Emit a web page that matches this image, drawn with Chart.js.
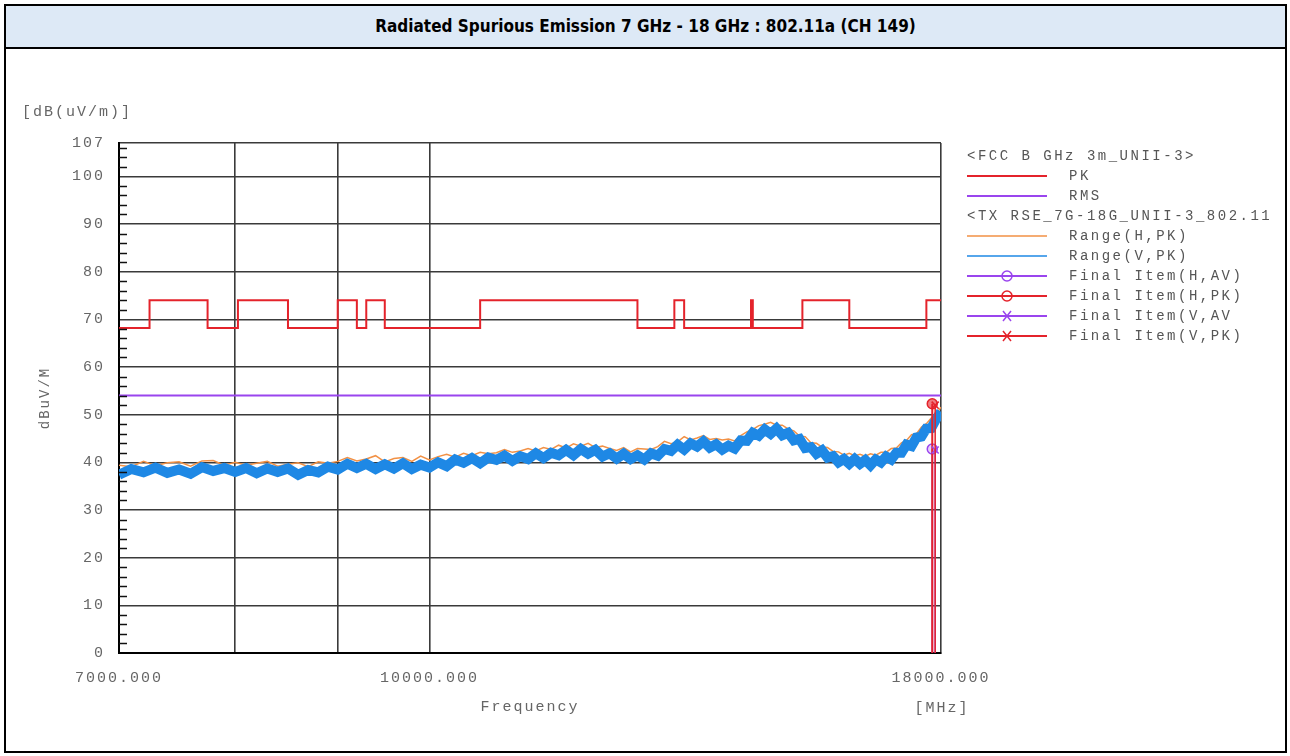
<!DOCTYPE html>
<html>
<head>
<meta charset="utf-8">
<script src="https://cdn.jsdelivr.net/npm/chart.js@4.4.1/dist/chart.umd.min.js"></script>
<style>
  html, body { margin: 0; padding: 0; background: #fff; }
  body { width: 1290px; height: 756px; position: relative; overflow: hidden; }
  #frame { position: absolute; left: 4px; top: 4px; width: 1279px; height: 745px; border: 2px solid #000; }
  #head {
    position: absolute; left: 0; top: 0; right: 0; height: 41px;
    background: #dde9f6; border-bottom: 2px solid #000;
    font: bold 17px "Liberation Sans Narrow", "DejaVu Sans Condensed", sans-serif;
    text-align: center; line-height: 41px; color: #000;
  }
  #chart { position: absolute; left: 0; top: 0; }
</style>
</head>
<body>
<div id="frame"><div id="head">Radiated Spurious Emission 7 GHz - 18 GHz : 802.11a (CH 149)</div></div>
<canvas id="chart" width="1290" height="756"></canvas>
<script>
// axis ticks
const xTicks = [7000, 8000, 9000, 10000, 18000];
const xTickLabels = {7000: '7000.000', 10000: '10000.000', 18000: '18000.000'};
const yTicks = [0, 10, 20, 30, 40, 50, 60, 70, 80, 90, 100, 107];

// limit lines (FCC restricted bands)
const limitFreq = [7000, 7250, 7750, 8025, 8500, 9000, 9200, 9300, 9500, 10600, 12700, 13250, 13400, 14470, 14500, 15350, 16200, 17700, 18000];
const limitPk   = [68.2, 74, 68.2, 74, 68.2, 74, 68.2, 74, 68.2, 74, 68.2, 74, 68.2, 74, 68.2, 74, 68.2, 74, 74];
const rmsFreq = [7000, 18000];
const rmsLimit = [54, 54];

// sweep frequencies (MHz)
const sweepFreq = [
  7000, 7100, 7200, 7300, 7400, 7500, 7600, 7700, 7800, 7900,
  8000, 8100, 8200, 8300, 8400, 8500, 8600, 8700, 8800, 8900,
  9000, 9100, 9200, 9300, 9400, 9500, 9600, 9700, 9800, 9900,
  10000, 10100, 10200, 10300, 10400, 10500, 10600, 10700, 10800, 10900,
  11000, 11100, 11200, 11300, 11400, 11500, 11600, 11700, 11800, 11900,
  12000, 12100, 12200, 12300, 12400, 12500, 12600, 12700, 12800, 12900,
  13000, 13100, 13200, 13300, 13400, 13500, 13600, 13700, 13800, 13900,
  14000, 14100, 14200, 14300, 14400, 14500, 14600, 14700, 14800, 14900,
  15000, 15100, 15200, 15300, 15400, 15500, 15600, 15700, 15800, 15900,
  16000, 16100, 16200, 16300, 16400, 16500, 16600, 16700, 16800, 16900,
  17000, 17100, 17200, 17300, 17400, 17500, 17600, 17700, 17800, 17900,
  18000
];
// Range(V,PK)
const rangeV = [
  37.4, 38.6, 37.9, 38.9, 37.8, 38.5, 37.6, 39.0, 38.2, 38.8,
  38.0, 38.8, 37.7, 38.7, 38.0, 38.7, 37.4, 38.4, 37.9, 39.1,
  38.5, 39.7, 38.8, 39.7, 38.6, 39.6, 38.7, 39.8, 38.6, 39.5,
  38.9, 40.0, 39.2, 40.6, 39.9, 40.9, 39.8, 41.0, 40.5, 41.4,
  40.3, 41.3, 40.7, 41.9, 40.9, 42.0, 41.5, 42.6, 41.5, 42.8,
  41.8, 42.6, 41.2, 41.9, 40.8, 41.8, 40.7, 41.5, 40.6, 41.9,
  41.4, 42.8, 42.4, 43.7, 42.7, 44.0, 43.3, 44.4, 43.1, 43.8,
  42.7, 43.5, 42.9, 44.6, 44.5, 46.2, 45.6, 46.9, 46.0, 47.1,
  45.7, 46.2, 44.6, 44.9, 43.0, 43.2, 41.8, 42.5, 41.0, 41.3,
  40.0, 40.7, 39.7, 40.7, 39.7, 40.5, 39.4, 40.6, 40.0, 41.2,
  40.6, 42.0, 42.0, 43.7, 43.4, 45.2, 45.4, 47.1, 47.2, 49.1,
  50.6
];
// Range(H,PK)
const rangeH = [
  39.4, 39.1, 40.2, 39.3, 39.9, 40.1, 39.2, 40.3, 40.4, 39.4,
  40.0, 39.4, 39.8, 40.2, 39.2, 39.6, 39.9, 39.1, 40.1, 39.8,
  40.2, 41.0, 40.3, 40.7, 41.4, 40.1, 40.8, 41.0, 40.2, 41.3,
  40.5, 41.2, 41.7, 41.1, 41.9, 41.4, 42.1, 41.8, 42.0, 42.7,
  42.1, 42.4, 42.9, 42.4, 43.1, 42.7, 43.6, 43.0, 43.9, 43.4,
  44.0, 43.1, 43.4, 42.9, 42.5, 43.1, 42.2, 42.9, 42.8, 42.7,
  43.3, 44.4, 43.9, 44.3, 45.4, 44.7, 45.1, 45.6, 44.8, 45.0,
  44.7, 44.9, 44.5, 45.6, 46.4, 46.9, 47.7, 48.0, 48.4, 47.8,
  47.8, 47.0, 46.6, 45.5, 45.4, 44.1, 44.0, 43.2, 43.1, 42.3,
  42.2, 41.5, 41.9, 41.4, 41.7, 41.3, 41.8, 41.5, 42.1, 42.1,
  42.9, 43.0, 44.1, 44.6, 45.8, 46.0, 47.4, 48.1, 49.3, 50.1,
  51.6
];

// final measured items
const finalHFreq = 17820, finalVFreq = 17880;
const finalHAv = 42.8, finalHPk = 52.3, finalVAv = 42.6, finalVPk = 52.0;

const legendRows = [
  {header: '<FCC B GHz 3m_UNII-3>'},
  {label: 'PK'},
  {label: 'RMS'},
  {header: '<TX RSE_7G-18G_UNII-3_802.11a_CH149>'},
  {label: 'Range(H,PK)'},
  {label: 'Range(V,PK)'},
  {label: 'Final Item(H,AV)'},
  {label: 'Final Item(H,PK)'},
  {label: 'Final Item(V,AV'},
  {label: 'Final Item(V,PK)'}
];

const RED = '#e4232b', PURPLE = '#9a45ee', BLUE = '#1e88e5', ORANGE = '#f29145';
const MONO = '"Liberation Mono", "DejaVu Sans Mono", monospace';

function pts(xs, ys) { return xs.map((x, i) => ({x: x, y: ys[i]})); }
function stem(x, y) { return [{x: x, y: 0}, {x: x, y: y}]; }

const datasets = [
  {label: 'Final Item(V,PK)', data: stem(finalVFreq, finalVPk), borderColor: RED, borderWidth: 1.5,
   pointStyle: 'crossRot', pointRadius: [0, 5], pointBorderWidth: 1.5, pointBorderColor: RED},
  {label: 'Final Item(V,AV', data: stem(finalVFreq, finalVAv), borderColor: PURPLE, borderWidth: 1.5,
   pointStyle: 'crossRot', pointRadius: [0, 5], pointBorderWidth: 1.5, pointBorderColor: PURPLE},
  {label: 'Final Item(H,PK)', data: stem(finalHFreq, finalHPk), borderColor: RED, borderWidth: 2,
   pointStyle: 'circle', pointRadius: [0, 5], pointBorderWidth: 1.5, pointBorderColor: RED, pointBackgroundColor: 'rgba(228,35,43,0.6)'},
  {label: 'Final Item(H,AV)', data: stem(finalHFreq, finalHAv), borderColor: 'rgba(154,69,238,0.7)', borderWidth: 2,
   pointStyle: 'circle', pointRadius: [0, 5], pointBorderWidth: 1.5, pointBorderColor: PURPLE, pointBackgroundColor: 'rgba(154,69,238,0.25)'},
  {label: 'Range(V,PK)', data: pts(sweepFreq, rangeV), borderColor: BLUE, borderWidth: 10, pointRadius: 0, borderJoinStyle: 'miter'},
  {label: 'Range(H,PK)', data: pts(sweepFreq, rangeH), borderColor: ORANGE, borderWidth: 1.5, pointRadius: 0},
  {label: 'PK', data: pts(limitFreq, limitPk), borderColor: RED, borderWidth: 2, pointRadius: 0, stepped: 'before'},
  {label: 'RMS', data: pts(rmsFreq, rmsLimit), borderColor: PURPLE, borderWidth: 2, pointRadius: 0}
];

const extrasPlugin = {
  id: 'extras',
  beforeDraw(chart) {
    chart.ctx.letterSpacing = '2px';
  },
  afterDraw(chart) {
    const ctx = chart.ctx;
    const y = chart.scales.y, area = chart.chartArea;
    ctx.save();
    // minor ticks on the left axis
    ctx.strokeStyle = '#111';
    ctx.lineWidth = 1.5;
    for (let v = 2; v < 107; v += 2) {
      if (v % 10 === 0) continue;
      const py = Math.round(y.getPixelForValue(v)) + 0.5;
      ctx.beginPath(); ctx.moveTo(area.left, py); ctx.lineTo(area.left + 8, py); ctx.stroke();
    }
    // unit labels
    ctx.fillStyle = '#666';
    ctx.font = '15px ' + MONO;
    ctx.letterSpacing = '2px';
    ctx.textBaseline = 'middle';
    ctx.textAlign = 'left';
    ctx.fillText('[dB(uV/m)]', 22, 112);
    ctx.textAlign = 'center';
    ctx.fillText('[MHz]', area.right + 1, 708);

    // side legend
    ctx.beginPath(); ctx.rect(955, 140, 317, 210); ctx.clip();
    ctx.font = '14px ' + MONO;
    ctx.letterSpacing = '2.5px';
    ctx.textAlign = 'left';
    legendRows.forEach((row, i) => {
      const ly = 156 + i * 20;
      ctx.fillStyle = '#555';
      if (row.header) { ctx.fillText(row.header, 967, ly); return; }
      const ds = chart.data.datasets.find(d => d.label === row.label);
      const col = ds.pointBorderColor || ds.borderColor;
      ctx.strokeStyle = col;
      ctx.lineWidth = row.label.startsWith('Range') ? 1.5 : 2;
      ctx.beginPath(); ctx.moveTo(967, ly); ctx.lineTo(1047, ly); ctx.stroke();
      if (ds.pointStyle === 'circle') {
        ctx.lineWidth = 1.5;
        ctx.beginPath(); ctx.arc(1007, ly, 5, 0, Math.PI * 2); ctx.stroke();
      } else if (ds.pointStyle === 'crossRot') {
        ctx.lineWidth = 1.5;
        ctx.beginPath();
        ctx.moveTo(1003, ly - 5); ctx.lineTo(1011, ly + 5);
        ctx.moveTo(1011, ly - 5); ctx.lineTo(1003, ly + 5);
        ctx.stroke();
      }
      ctx.fillStyle = '#555';
      ctx.fillText(row.label, 1069, ly);
    });
    ctx.restore();
  }
};

new Chart(document.getElementById('chart'), {
  type: 'line',
  data: {datasets: datasets},
  options: {
    responsive: false,
    animation: false,
    layout: {padding: {left: 0, top: 143, right: 349, bottom: 0}},
    plugins: {legend: {display: false}, tooltip: {enabled: false}},
    scales: {
      x: {
        type: 'logarithmic', min: 7000, max: 18000,
        afterBuildTicks: s => { s.ticks = xTicks.map(v => ({value: v})); },
        afterFit: s => { s.height = 103; s.paddingLeft = 0; s.paddingRight = 0; },
        ticks: {
          autoSkip: false, maxRotation: 0, minRotation: 0, padding: 16, color: '#666',
          font: {family: MONO, size: 15},
          callback: v => xTickLabels[v] || ''
        },
        grid: {color: '#3a3a3a', lineWidth: 1.6, drawTicks: false},
        border: {color: '#000', width: 2},
        title: {display: true, text: 'Frequency', color: '#666', font: {family: MONO, size: 15}, padding: {top: 0, bottom: 40}}
      },
      y: {
        min: 0, max: 107,
        afterBuildTicks: s => { s.ticks = yTicks.map(v => ({value: v})); },
        afterFit: s => { s.width = 119; s.paddingTop = 0; s.paddingBottom = 0; },
        ticks: {padding: 14, color: '#666', font: {family: MONO, size: 15}},
        grid: {color: '#3a3a3a', lineWidth: 1.6, drawTicks: false},
        border: {color: '#000', width: 2},
        title: {display: true, text: 'dBuV/M', color: '#666', font: {family: MONO, size: 14}, padding: {top: 37, bottom: 0}}
      }
    }
  },
  plugins: [extrasPlugin]
});
</script>
</body>
</html>
